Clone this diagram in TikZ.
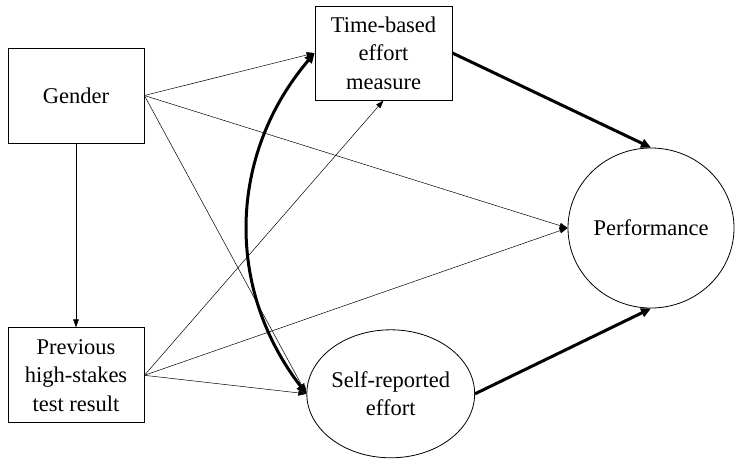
\documentclass[tikz,border=0pt]{standalone}
\usepackage{fontspec}
\setmainfont{Liberation Serif}
\usetikzlibrary{arrows.meta,positioning,shapes.geometric}
\tikzstyle{observed}=[
	rectangle,
	draw,
	line width=0.8pt,
	minimum width=136pt,
	minimum height=95pt,
	align=center,
	font=\fontsize{22.5}{28.5}\selectfont
]
\tikzstyle{latent}=[
	ellipse,
	draw,
	line width=0.8pt,
	inner sep=0pt,
	align=center,
	font=\fontsize{22.5}{28.5}\selectfont
]
\tikzstyle{effect}=[
	->,
	>={Triangle[length=8pt,width=5.5pt]},
	line width=0.5pt
]
\tikzstyle{maineffect}=[
	->,
	>={Triangle[length=10pt,width=9pt]},
	line width=3pt
]

\begin{document}
\begin{tikzpicture}[x=1pt,y=-1pt]
\useasboundingbox (0,0) rectangle (738,459);
\node [observed] (Gender) at (76,95.5) {Gender};
\node [observed] (Previous)[below=184pt of Gender] {Previous\\high-stakes\\test result};
\node [latent, minimum width=157pt, minimum height=128pt] (SelfReport)[right=162pt of Previous, yshift=-18.5pt] {Self-reported\\effort};
\node [observed, minimum width=137pt, minimum height=94pt] (TimeBased) at (383.5,53) {Time-based\\effort\\measure};
\node [latent, minimum width=166pt, minimum height=160pt] (Performance) at (651,228) {Performance};

\draw [effect] (Gender) -- (Previous);
\draw [effect] (Gender.east) -- (TimeBased.west);
\draw [effect] (Gender.east) -- (Performance.west);
\draw [effect] (Gender.east) -- (SelfReport.west);
\draw [effect] (Previous.east) -- (TimeBased.south);
\draw [effect] (Previous.east) -- (Performance.west);
\draw [effect] (Previous.east) -- (SelfReport.west);

\draw [maineffect, <->] (TimeBased.west) to [bend right=39] (SelfReport.west);
\draw [maineffect] (TimeBased.east) -- (Performance.north);
\draw [maineffect] (SelfReport.east) -- (Performance.south);
\end{tikzpicture}
\end{document}
